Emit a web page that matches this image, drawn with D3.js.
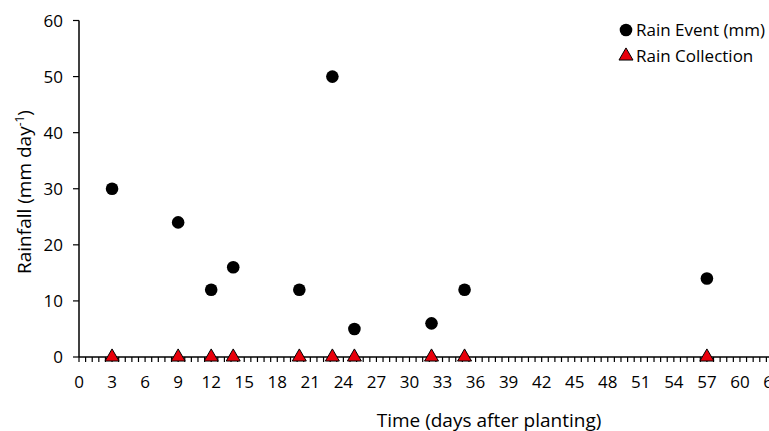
<!DOCTYPE html>
<html>
<head>
<meta charset="utf-8">
<script src="https://cdn.jsdelivr.net/npm/d3@7"></script>
<style>
  html, body { margin: 0; padding: 0; background: #fff; }
  svg { display: block; }
  text { font-family: "Open Sans", "Noto Sans", sans-serif; fill: #000; }
</style>
</head>
<body>
<svg id="chart" width="769" height="431"></svg>
<script>
const eventDays = [3, 9, 12, 14, 20, 23, 25, 32, 35, 57];
const eventRain = [30, 24, 12, 16, 12, 50, 5, 6, 12, 14];
const collectionDays = [3, 9, 12, 14, 20, 23, 25, 32, 35, 57];
const collectionRain = [0, 0, 0, 0, 0, 0, 0, 0, 0, 0];
const xTicks = [0, 3, 6, 9, 12, 15, 18, 21, 24, 27, 30, 33, 36, 39, 42, 45, 48, 51, 54, 57, 60, 63];
const yTicks = [0, 10, 20, 30, 40, 50, 60];
const seriesNames = ["Rain Event (mm)", "Rain Collection"];

const svg = d3.select("#chart");
const x = d3.scaleLinear().domain([0, 63]).range([79, 773]);
const y = d3.scaleLinear().domain([0, 60]).range([357, 20.5]);

// minor ticks every 0.6
const minor = d3.range(0, 63.001, 0.6).map(v => +v.toFixed(2));

// X axis
const xAxisG = svg.append("g").attr("transform", `translate(0,${y(0)})`);
xAxisG.append("line").attr("x1", x(0)).attr("x2", x(63)).attr("y1", 0).attr("y2", 0)
  .attr("stroke", "#000").attr("stroke-width", 1.5);
xAxisG.selectAll("line.minor").data(minor).enter().append("line")
  .attr("class", "minor")
  .attr("x1", d => x(d)).attr("x2", d => x(d)).attr("y1", 0).attr("y2", 5)
  .attr("stroke", "#000").attr("stroke-width", 1.2);
xAxisG.selectAll("text").data(xTicks).enter().append("text")
  .attr("x", d => x(d)).attr("y", 31)
  .attr("text-anchor", "middle").attr("font-size", 17)
  .text(d => d);

// Y axis
const yAxisG = svg.append("g").attr("transform", `translate(${x(0)},0)`);
yAxisG.append("line").attr("x1", 0).attr("x2", 0).attr("y1", y(60)).attr("y2", y(0))
  .attr("stroke", "#000").attr("stroke-width", 1.5);
yAxisG.selectAll("line.tk").data(yTicks).enter().append("line")
  .attr("class", "tk")
  .attr("x1", -6).attr("x2", 0).attr("y1", d => y(d)).attr("y2", d => y(d))
  .attr("stroke", "#000").attr("stroke-width", 1.2);
yAxisG.selectAll("text").data(yTicks).enter().append("text")
  .attr("x", -16).attr("y", d => y(d)).attr("dy", "0.36em")
  .attr("text-anchor", "end").attr("font-size", 17)
  .text(d => d);

// Axis titles
svg.append("text")
  .attr("x", 489).attr("y", 427)
  .attr("text-anchor", "middle").attr("font-size", 19)
  .text("Time (days after planting)");

const yt = svg.append("text")
  .attr("transform", `translate(31,192) rotate(-90)`)
  .attr("text-anchor", "middle").attr("font-size", 19);
yt.append("tspan").text("Rainfall (mm day");
yt.append("tspan").attr("dy", -7).attr("font-size", 12).text("-1");
yt.append("tspan").attr("dy", 7).text(")");

// Series
const circleData = eventDays.map((d, i) => [d, eventRain[i]]);
const triData = collectionDays.map((d, i) => [d, collectionRain[i]]);

svg.append("g").selectAll("circle").data(circleData).enter().append("circle")
  .attr("cx", d => x(d[0])).attr("cy", d => y(d[1])).attr("r", 6.3)
  .attr("fill", "#000");

const tri = d3.symbol().type(d3.symbolTriangle).size(85);
svg.append("g").selectAll("path").data(triData).enter().append("path")
  .attr("d", tri)
  .attr("transform", d => `translate(${x(d[0])},${y(d[1])})`)
  .attr("fill", "#e8000b").attr("stroke", "#000").attr("stroke-width", 1);

// Legend
const lg = svg.append("g");
lg.append("circle").attr("cx", 626).attr("cy", 30).attr("r", 6.3).attr("fill", "#000");
lg.append("text").attr("x", 636).attr("y", 30).attr("dy", "0.36em").attr("font-size", 17).text(seriesNames[0]);
lg.append("path").attr("d", tri).attr("transform", "translate(626,56)")
  .attr("fill", "#e8000b").attr("stroke", "#000").attr("stroke-width", 1);
lg.append("text").attr("x", 636).attr("y", 56).attr("dy", "0.36em").attr("font-size", 17).text(seriesNames[1]);
</script>
</body>
</html>
